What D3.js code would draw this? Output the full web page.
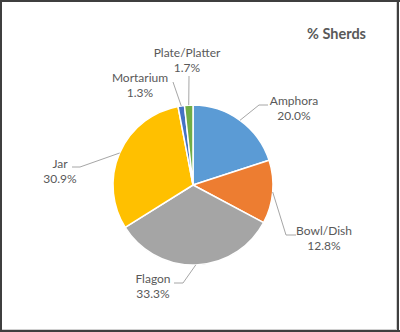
<!DOCTYPE html>
<html>
<head>
<meta charset="utf-8">
<script src="https://cdn.jsdelivr.net/npm/d3@7"></script>
<style>
  html, body { margin: 0; padding: 0; background: #fff; }
  svg { display: block; }
  text { font-family: Lato, "Open Sans", sans-serif; fill: #595959; }
</style>
</head>
<body>
<svg id="chart" width="400" height="332"></svg>
<script>
// Share of sherds by vessel type
const categories = ["Amphora", "Bowl/Dish", "Flagon", "Jar", "Mortarium", "Plate/Platter"];
const percents = [20.0, 12.8, 33.3, 30.9, 1.3, 1.7];
const colors = ["#5B9BD5", "#ED7D31", "#A5A5A5", "#FFC000", "#4472C4", "#70AD47"];
const title = "% Sherds";

// Label layout: text centre, first baseline, and leader elbow / end points
const labelLayout = {
  "Amphora":       { x: 294, y: 105, elbow: [259, 105], end: [268, 105] },
  "Bowl/Dish":     { x: 324, y: 235, elbow: [286, 235], end: [296, 235] },
  "Flagon":        { x: 153, y: 283, elbow: [183, 283], end: [174, 283] },
  "Jar":           { x: 60,  y: 168, elbow: [80, 167],  end: [72, 167] },
  "Mortarium":     { x: 140, y: 82,  elbow: null,       end: [173, 82] },
  "Plate/Platter": { x: 187, y: 57,  elbow: null,       end: [189, 76] }
};

const svg = d3.select("#chart");
const W = 400, H = 332;
const cx = 193, cy = 185, R = 80;

// Frame
svg.append("rect").attr("x", 0).attr("y", 0).attr("width", W).attr("height", H).attr("fill", "#fff");
svg.append("path")
  .attr("d", `M396.5,1 V329.5 H1`)
  .attr("fill", "none").attr("stroke", "#d0d0d0").attr("stroke-width", 1);
svg.append("path")
  .attr("d", `M1,0 V331 M0,1 H400 M398,0 V332 M0,331 H400`)
  .attr("fill", "none").attr("stroke", "#3f3f3f").attr("stroke-width", 2);

// Title
svg.append("text")
  .attr("x", 366).attr("y", 39)
  .attr("text-anchor", "end")
  .style("font-size", "14.5px").style("font-weight", "bold")
  .text(title);

const data = categories.map((c, i) => ({ category: c, value: percents[i], color: colors[i] }));

const pie = d3.pie().value(d => d.value).sort(null);
const arcs = pie(data);
const arc = d3.arc().innerRadius(0).outerRadius(R);

const g = svg.append("g").attr("transform", `translate(${cx},${cy})`);

g.selectAll("path.slice")
  .data(arcs)
  .join("path")
  .attr("class", "slice")
  .attr("d", arc)
  .attr("fill", d => d.data.color)
  .attr("stroke", "#fff")
  .attr("stroke-width", 1.5)
  .attr("stroke-linejoin", "round");

// Leader lines from slice mid-angle on the rim
arcs.forEach(a => {
  const L = labelLayout[a.data.category];
  const mid = (a.startAngle + a.endAngle) / 2;
  const sx = cx + R * Math.sin(mid), sy = cy - R * Math.cos(mid);
  const pts = [[sx, sy]];
  if (L.elbow) pts.push(L.elbow);
  pts.push(L.end);
  svg.append("path")
    .attr("d", d3.line()(pts))
    .attr("fill", "none")
    .attr("stroke", "#a6a6a6")
    .attr("stroke-width", 1);

  const t = svg.append("text")
    .attr("text-anchor", "middle")
    .style("font-size", "12px");
  t.append("tspan").attr("x", L.x).attr("y", L.y).text(a.data.category);
  t.append("tspan").attr("x", L.x).attr("y", L.y + 14.5).text(d3.format(".1f")(a.data.value) + "%");
});
</script>
</body>
</html>
